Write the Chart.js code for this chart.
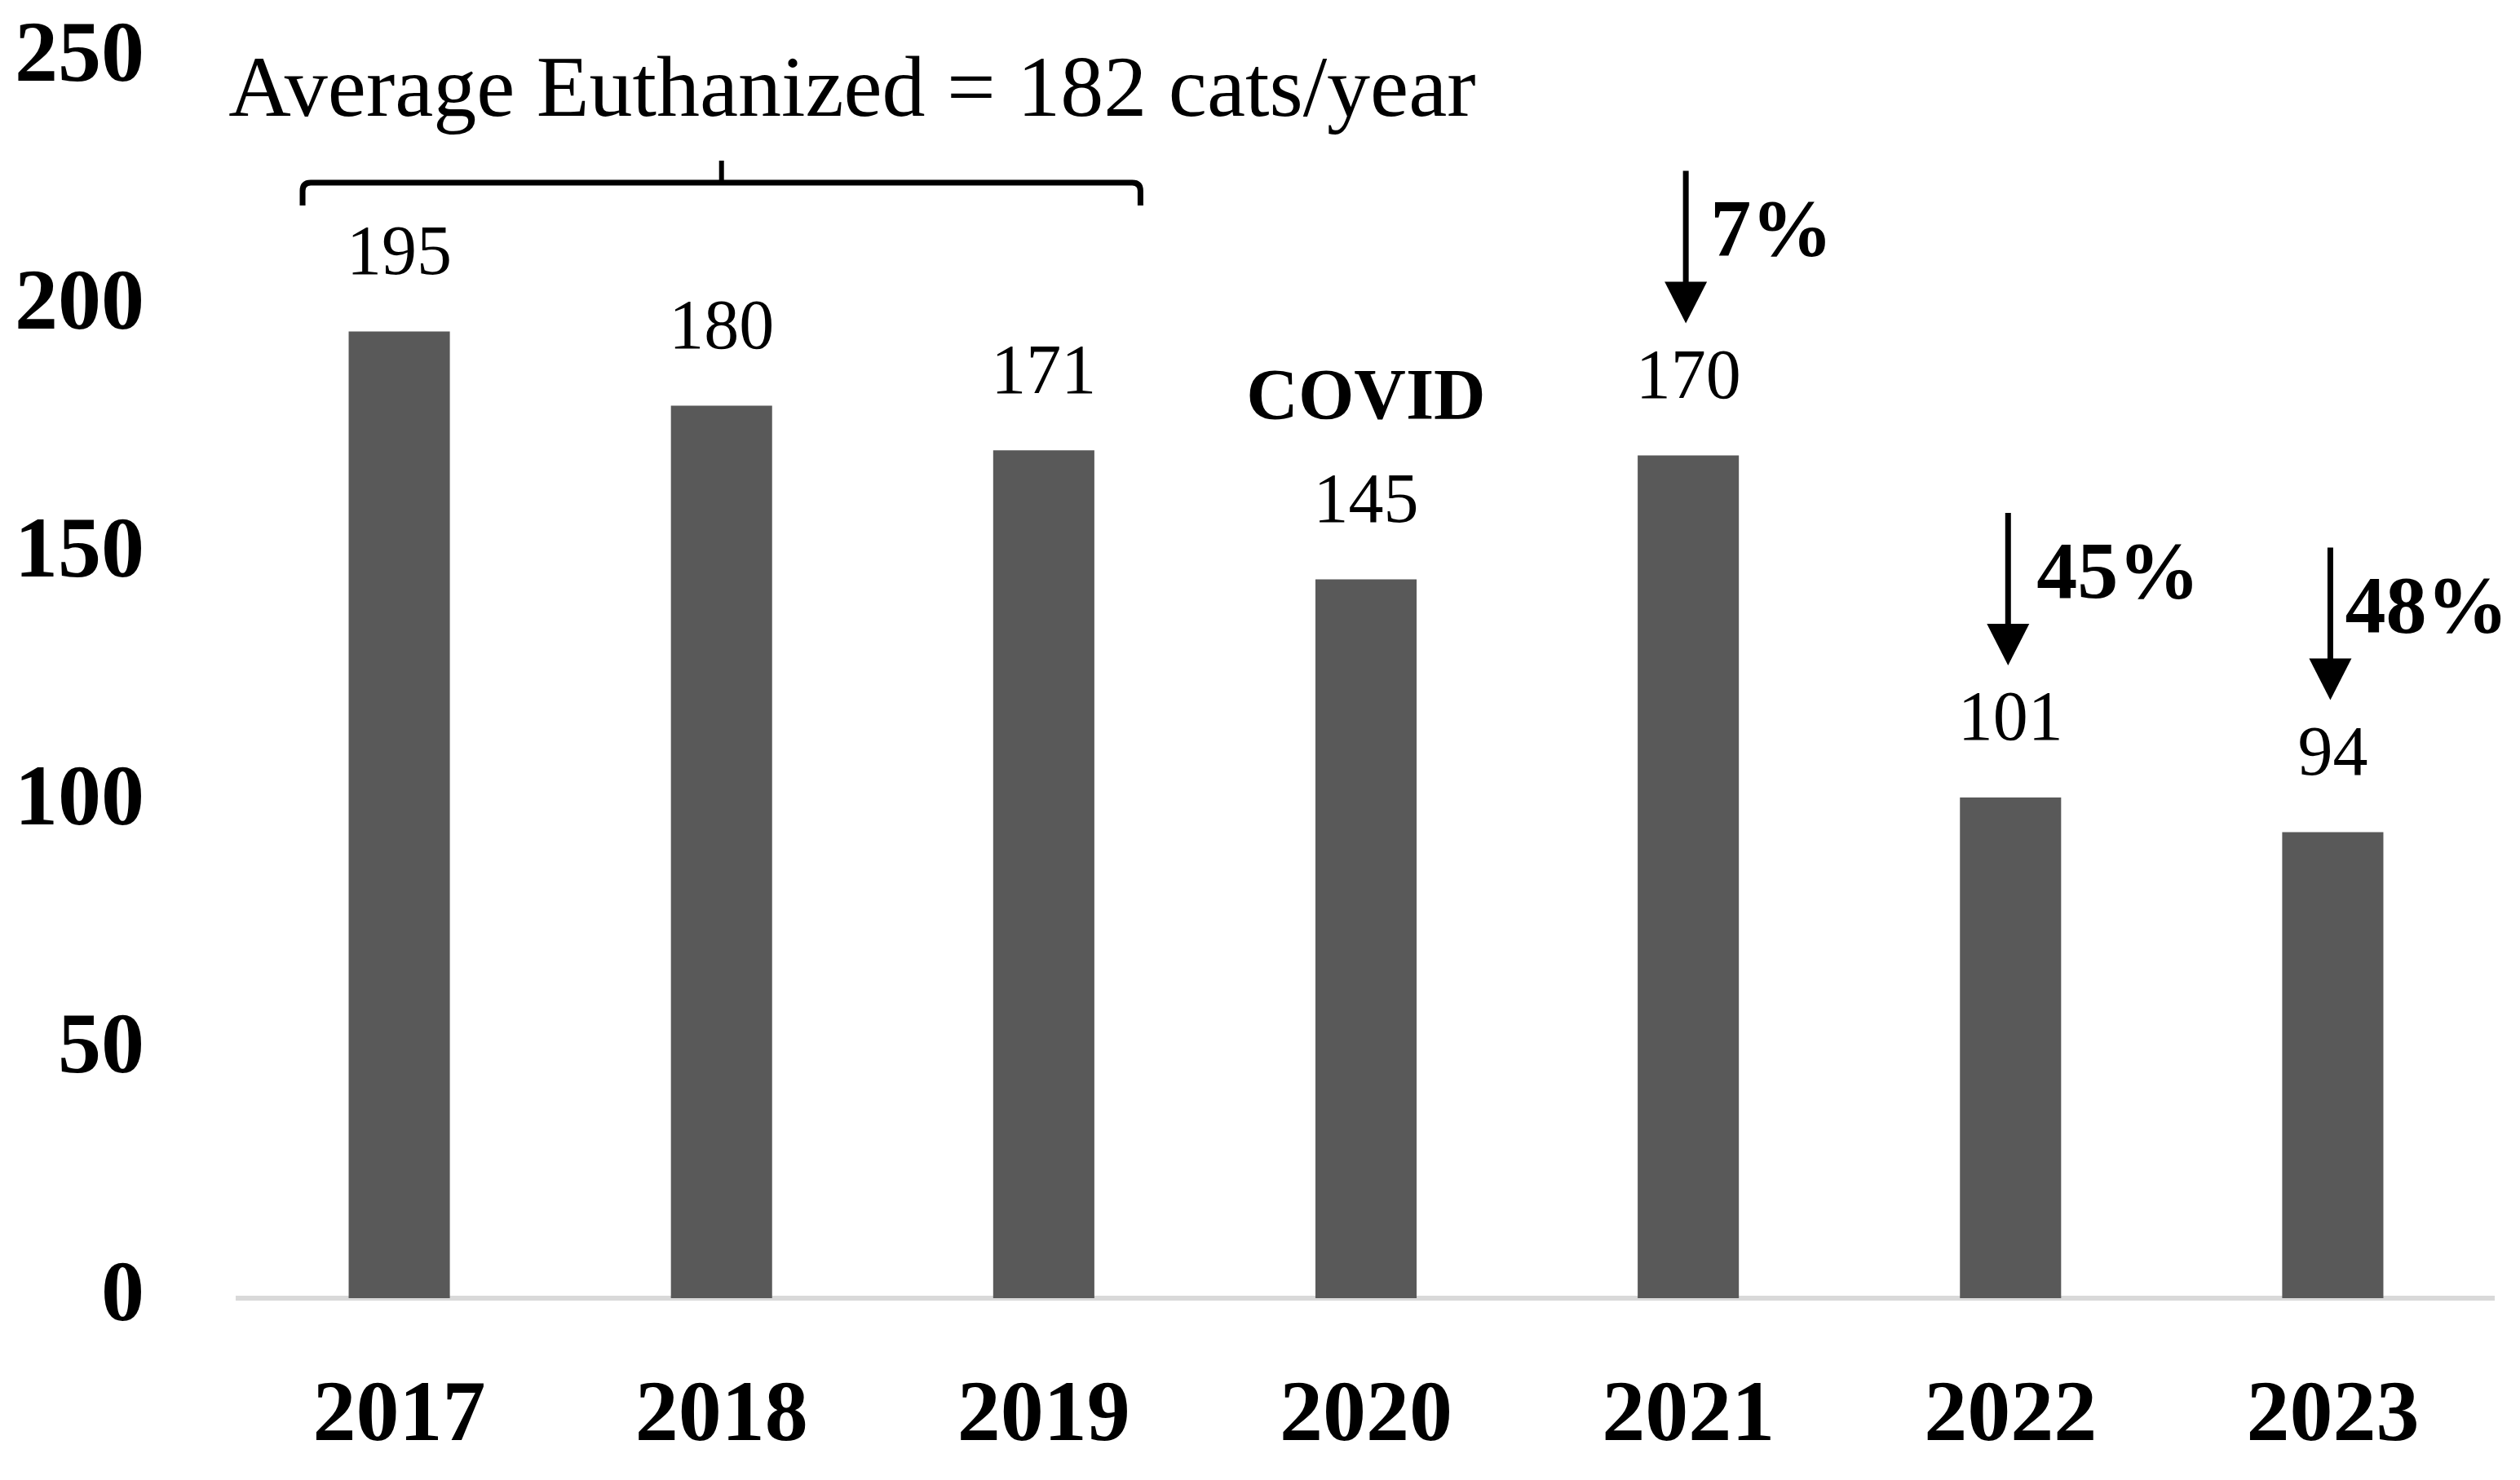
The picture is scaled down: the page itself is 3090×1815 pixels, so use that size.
<!DOCTYPE html>
<html>
<head>
<meta charset="utf-8">
<script src="https://cdn.jsdelivr.net/npm/chart.js@4.4.1/dist/chart.umd.min.js"></script>
<style>
  html, body { margin: 0; padding: 0; background: #fff; }
  #wrap { width: 3090px; height: 1815px; }
</style>
</head>
<body>
<div id="wrap"><canvas id="chart" width="3090" height="1815"></canvas></div>
<script>
// Cats euthanized per year
const years = ['2017', '2018', '2019', '2020', '2021', '2022', '2023'];
const euthanized = [195, 180, 171, 145, 170, 101, 94];
const yTicks = [0, 50, 100, 150, 200, 250];

// Annotation texts
const averageText = 'Average Euthanized = 182 cats/year';
const averageYears = ['2017', '2018', '2019'];
const covidYear = '2020';
const covidText = 'COVID';
const dropYears = ['2021', '2022', '2023'];
const dropLabels = ['7%', '45%', '48%'];

const FONT = '"Liberation Serif", "Times New Roman", serif';

// Draws value labels, the average bracket, COVID note and drop arrows
const annotationPlugin = {
    id: 'annotations',
    afterDatasetsDraw(chart) {
        const { ctx, scales: { x, y } } = chart;
        const bars = chart.getDatasetMeta(0).data;
        ctx.save();
        ctx.fillStyle = '#000';
        ctx.strokeStyle = '#000';

        // value labels above bars
        ctx.font = `86px ${FONT}`;
        ctx.textAlign = 'center';
        ctx.textBaseline = 'middle';
        bars.forEach((bar, i) => {
            ctx.fillText(String(euthanized[i]), bar.x, bar.y - 93);
        });

        // COVID note
        const covidBar = bars[years.indexOf(covidYear)];
        ctx.font = `bold 88px ${FONT}`;
        ctx.fillText(covidText, covidBar.x, covidBar.y - 220);

        // average text + bracket over 2017-2019
        const first = years.indexOf(averageYears[0]);
        const last = years.indexOf(averageYears[averageYears.length - 1]);
        const mid = (first + last) / 2;
        ctx.font = `106px ${FONT}`;
        ctx.textAlign = 'left';
        ctx.textBaseline = 'alphabetic';
        ctx.fillText(averageText, x.getPixelForValue(first - 0.53), y.getPixelForValue(238.5));

        const bx1 = x.getPixelForValue(first - 0.3);
        const bx2 = x.getPixelForValue(last + 0.3);
        const bxm = x.getPixelForValue(mid);
        const by = y.getPixelForValue(225);
        const r = 10;
        ctx.lineWidth = 7;
        ctx.lineJoin = 'round';
        ctx.lineCap = 'butt';
        ctx.beginPath();
        ctx.moveTo(bx1, by + 28);
        ctx.lineTo(bx1, by + r);
        ctx.quadraticCurveTo(bx1, by, bx1 + r, by);
        ctx.lineTo(bx2 - r, by);
        ctx.quadraticCurveTo(bx2, by, bx2, by + r);
        ctx.lineTo(bx2, by + 28);
        ctx.stroke();
        // centre spike
        ctx.lineWidth = 6;
        ctx.beginPath();
        ctx.moveTo(bxm, by);
        ctx.lineTo(bxm, by - 27);
        ctx.stroke();

        // drop arrows
        const textDx = [30, 35, 18];
        dropYears.forEach((yr, k) => {
            const bar = bars[years.indexOf(yr)];
            const ax = bar.x - 3;
            const tip = bar.y - 162;
            const top = tip - 187;
            const headLen = 51;
            const headW = 26;
            ctx.lineWidth = 7;
            ctx.beginPath();
            ctx.moveTo(ax, top);
            ctx.lineTo(ax, tip - headLen + 2);
            ctx.stroke();
            ctx.beginPath();
            ctx.moveTo(ax - headW, tip - headLen);
            ctx.lineTo(ax + headW, tip - headLen);
            ctx.lineTo(ax, tip);
            ctx.closePath();
            ctx.fill();

            ctx.font = `bold 100px ${FONT}`;
            ctx.textAlign = 'left';
            ctx.textBaseline = 'alphabetic';
            ctx.fillText(dropLabels[k], ax + textDx[k], top + 104);
        });

        ctx.restore();
    }
};

function createChart() {
    const ctx = document.getElementById('chart');
    const chart = new Chart(ctx, {
        type: 'bar',
        data: {
            labels: years,
            datasets: [{
                data: euthanized,
                backgroundColor: '#595959',
                borderWidth: 0,
                barPercentage: 0.314,
                categoryPercentage: 1.0
            }]
        },
        options: {
            responsive: false,
            devicePixelRatio: 1,
            animation: false,
            layout: {
                padding: { top: 72, right: 32, bottom: 0, left: 0 }
            },
            plugins: {
                legend: { display: false },
                tooltip: { enabled: false }
            },
            scales: {
                x: {
                    grid: { display: false, drawTicks: false },
                    border: { display: true, color: '#d9d9d9', width: 6 },
                    ticks: {
                        color: '#000',
                        padding: 83,
                        font: { family: FONT, weight: 'bold', size: 106 }
                    },
                    afterFit(scale) {
                        scale.height = 223;
                        scale.paddingLeft = 0;
                        scale.paddingRight = 0;
                    }
                },
                y: {
                    min: 0,
                    max: 250,
                    afterBuildTicks(scale) {
                        scale.ticks = yTicks.map(v => ({ value: v }));
                    },
                    grid: { display: false, drawTicks: false },
                    border: { display: false },
                    ticks: {
                        color: '#000',
                        padding: 115,
                        font: { family: FONT, weight: 'bold', size: 106 }
                    },
                    afterFit(scale) {
                        scale.width = 292;
                        scale.paddingTop = 0;
                        scale.paddingBottom = 0;
                    }
                }
            }
        },
        plugins: [annotationPlugin]
    });
    ctx.chart = chart;
}

document.addEventListener('DOMContentLoaded', createChart);
</script>
</body>
</html>
